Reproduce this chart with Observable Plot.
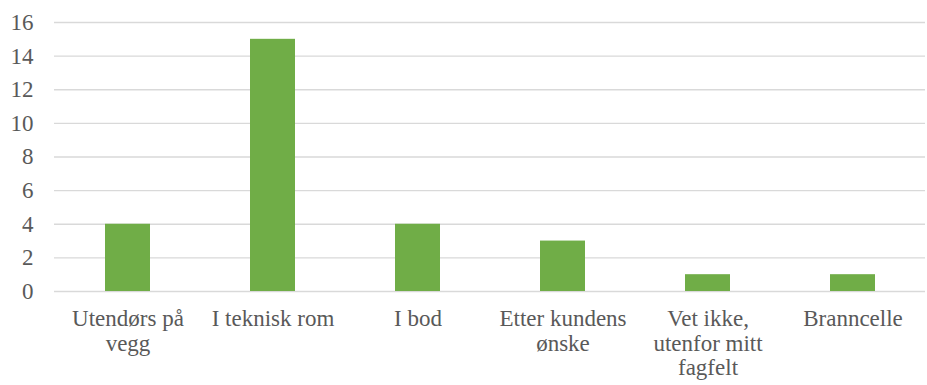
<!DOCTYPE html>
<html>
<head>
<meta charset="utf-8">
<script src="https://cdn.jsdelivr.net/npm/d3@7"></script>
<script src="https://cdn.jsdelivr.net/npm/@observablehq/plot@0.6"></script>
<style>
  html, body { margin: 0; padding: 0; background: #fff; font-family: "Liberation Serif", serif; }
  #chart svg { display: block; font-family: "Liberation Serif", serif !important; }
  #chart svg text, #chart svg tspan { font-family: "Liberation Serif", serif !important; }
</style>
</head>
<body>
<div id="chart"></div>
<script>
const categories = ["Utendørs på vegg", "I teknisk rom", "I bod", "Etter kundens ønske", "Vet ikke, utenfor mitt fagfelt", "Branncelle"];
const tickLabels = ["Utendørs på\nvegg", "I teknisk rom", "I bod", "Etter kundens\nønske", "Vet ikke,\nutenfor mitt\nfagfelt", "Branncelle"];
const values = [4, 15, 4, 3, 1, 1];
const yTicks = [0, 2, 4, 6, 8, 10, 12, 14, 16];

const data = categories.map((c, i) => ({category: c, value: values[i]}));
const labelOf = new Map(categories.map((c, i) => [c, tickLabels[i]]));

const chart = Plot.plot({
  width: 927,
  height: 385,
  marginLeft: 54,
  marginRight: 2,
  marginTop: 22,
  marginBottom: 94,
  style: {fontSize: "23px", color: "#595959", background: "#fff", fontFamily: "Liberation Serif, serif"},
  x: {domain: categories, paddingInner: 0.69, paddingOuter: 0.345, axis: null, label: null},
  y: {domain: [0, 16], axis: null, label: null},
  marks: [
    Plot.ruleY(yTicks, {stroke: "#d9d9d9", strokeWidth: 1.3}),
    Plot.barY(data, {x: "category", y: "value", fill: "#70ad47"}),
    Plot.axisY({ticks: yTicks, tickSize: 0, tickPadding: 21, fill: "#595959", fontSize: 23, label: null}),
    Plot.axisX({tickSize: 0, tickPadding: 17, tickFormat: d => labelOf.get(d), lineHeight: 1.07, fill: "#595959", fontSize: 23, label: null})
  ]
});
chart.querySelectorAll("g, text, tspan").forEach(el => {
  el.setAttribute("font-family", "Liberation Serif, serif");
  el.style.fontFamily = "'Liberation Serif', serif";
});
document.getElementById("chart").append(chart);
</script>
</body>
</html>
